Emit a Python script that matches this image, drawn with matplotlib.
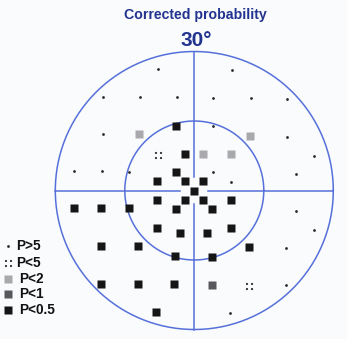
import numpy as np
import matplotlib
matplotlib.use("Agg")
import matplotlib.pyplot as plt
from matplotlib.path import Path

# Test locations (degrees, x to the right, y upward) grouped by probability class
p_gt5_x = [-7.8, 8.2, -19.6, -11.7, -3.8, 4.1, 12.2, 20.1, -19.8, 4.1, 20.1, 25.9,
           -25.9, -19.9, -14.0, 4.0, 7.9, 21.9, 21.9, 25.8, 19.8, 19.7, 7.7]
p_gt5_y = [26.2, 26.0, 20.2, 20.1, 20.1, 20.0, 19.9, 19.8, 12.1, 13.9, 11.6, 7.5,
           4.2, 4.2, 4.1, 3.9, 1.8, 3.6, -4.4, -8.5, -12.5, -20.5, -26.5]

p_lt5_x = [-7.9, 11.8]
p_lt5_y = [7.7, -20.7]

p_lt2_x = [-11.9, 12.0, 1.9, 7.9]
p_lt2_y = [12.1, 11.8, 7.8, 7.8]

p_lt1_x = [3.8]
p_lt1_y = [-20.4]

p_lt05_x = [-3.9, -2.0, -3.9, -8.0, -2.0, 1.9, 0.0, -8.0, -2.0, 1.9, 7.9,
            -14.0, -20.1, -26.0, -3.9, 3.9, -8.1, -3.1, 2.8, 7.9,
            -20.1, -12.2, -4.2, 3.8, 11.7, -20.1, -12.2, -4.3, -8.3]
p_lt05_y = [14.0, 7.8, 4.1, 2.0, 2.0, 2.0, 0.0, -2.0, -2.0, -2.0, -2.1,
            -3.8, -3.8, -3.8, -4.1, -4.1, -8.0, -9.1, -9.1, -8.1,
            -12.0, -12.0, -14.2, -14.3, -12.3, -20.1, -20.2, -20.2, -26.3]

legend_labels = ["P>5", "P<5", "P<2", "P<1", "P<0.5"]
title_text = "Corrected probability"
field_text = "30°"
outer_radius = 30
inner_radius = 15

W, H = 347, 339
cx_px, cy_px = 194.3, 190.5
px_per_deg = 139 / 30.0

fig = plt.figure(figsize=(W / 100, H / 100), dpi=100)
fig.patch.set_facecolor("#fafbfd")
ax = fig.add_axes([0, 0, 1, 1])
ax.set_facecolor("#fafbfd")
ax.set_xlim(-cx_px / px_per_deg, (W - cx_px) / px_per_deg)
ax.set_ylim(-(H - cy_px) / px_per_deg, cy_px / px_per_deg)
ax.set_aspect("auto")
ax.axis("off")

line_col = "#5670da"
lw = 1.1
t = np.linspace(0, 2 * np.pi, 400)
for r in (outer_radius, inner_radius):
    ax.plot(r * np.cos(t), r * np.sin(t), color=line_col, lw=lw, zorder=1)

gap = 3.0
ax.plot([-outer_radius, -gap], [0, 0], color=line_col, lw=lw, zorder=1)
ax.plot([gap, outer_radius], [0, 0], color=line_col, lw=lw, zorder=1)
ax.plot([0, 0], [gap, outer_radius], color=line_col, lw=lw, zorder=1)
ax.plot([0, 0], [-outer_radius, -gap], color=line_col, lw=lw, zorder=1)

# four-dot marker for P<5
dots = [Path.circle((dx, dy), 0.3) for dx in (-0.7, 0.7) for dy in (-0.7, 0.7)]
quad_marker = Path.make_compound_path(*dots)

sq = 5.7
dot_ms = 2.0
ax.plot(p_gt5_x, p_gt5_y, "o", ms=dot_ms, color="#2a2a2a", mec="none", zorder=3)
ax.plot(p_lt5_x, p_lt5_y, ls="none", marker=quad_marker, ms=5.2, color="#2a2a2a", mec="none", zorder=3)
ax.plot(p_lt2_x, p_lt2_y, "s", ms=sq, color="#a9a9ad", mec="none", zorder=3)
ax.plot(p_lt1_x, p_lt1_y, "s", ms=sq, color="#58585c", mec="none", zorder=3)
ax.plot(p_lt05_x, p_lt05_y, "s", ms=sq, color="#151515", mec="none", zorder=3)

# legend
def to_data(px, py):
    return (px - cx_px) / px_per_deg, (cy_px - py) / px_per_deg

leg_rows = [245.7, 263.0, 279.3, 294.3, 310.0]
leg_styles = [
    dict(marker="o", ms=dot_ms, color="#2a2a2a"),
    dict(marker=quad_marker, ms=5.2, color="#2a2a2a"),
    dict(marker="s", ms=5.4, color="#a9a9ad"),
    dict(marker="s", ms=5.4, color="#58585c"),
    dict(marker="s", ms=5.4, color="#151515"),
]
text_x = [16.0, 16.0, 19.0, 19.0, 19.0]
for lab, py, st, tx in zip(legend_labels, leg_rows, leg_styles, text_x):
    mx, my = to_data(8.3, py)
    ax.plot([mx], [my], ls="none", mec="none", zorder=3, **st)
    txd, tyd = to_data(tx, py)
    ax.text(txd, tyd, lab, ha="left", va="center", fontsize=9.8, fontweight="bold",
            family="Liberation Sans", color="#111111")

fig.text(195 / W, 1 - 19 / H, title_text, ha="center", va="baseline", fontsize=10.2,
         fontweight="bold", family="Liberation Sans", color="#22348f")
fig.text(196 / W, 1 - 46.5 / H, field_text, ha="center", va="baseline", fontsize=15,
         fontweight="bold", family="Liberation Sans", color="#22348f")

fig.savefig("out.png", dpi=100, facecolor=fig.get_facecolor())
